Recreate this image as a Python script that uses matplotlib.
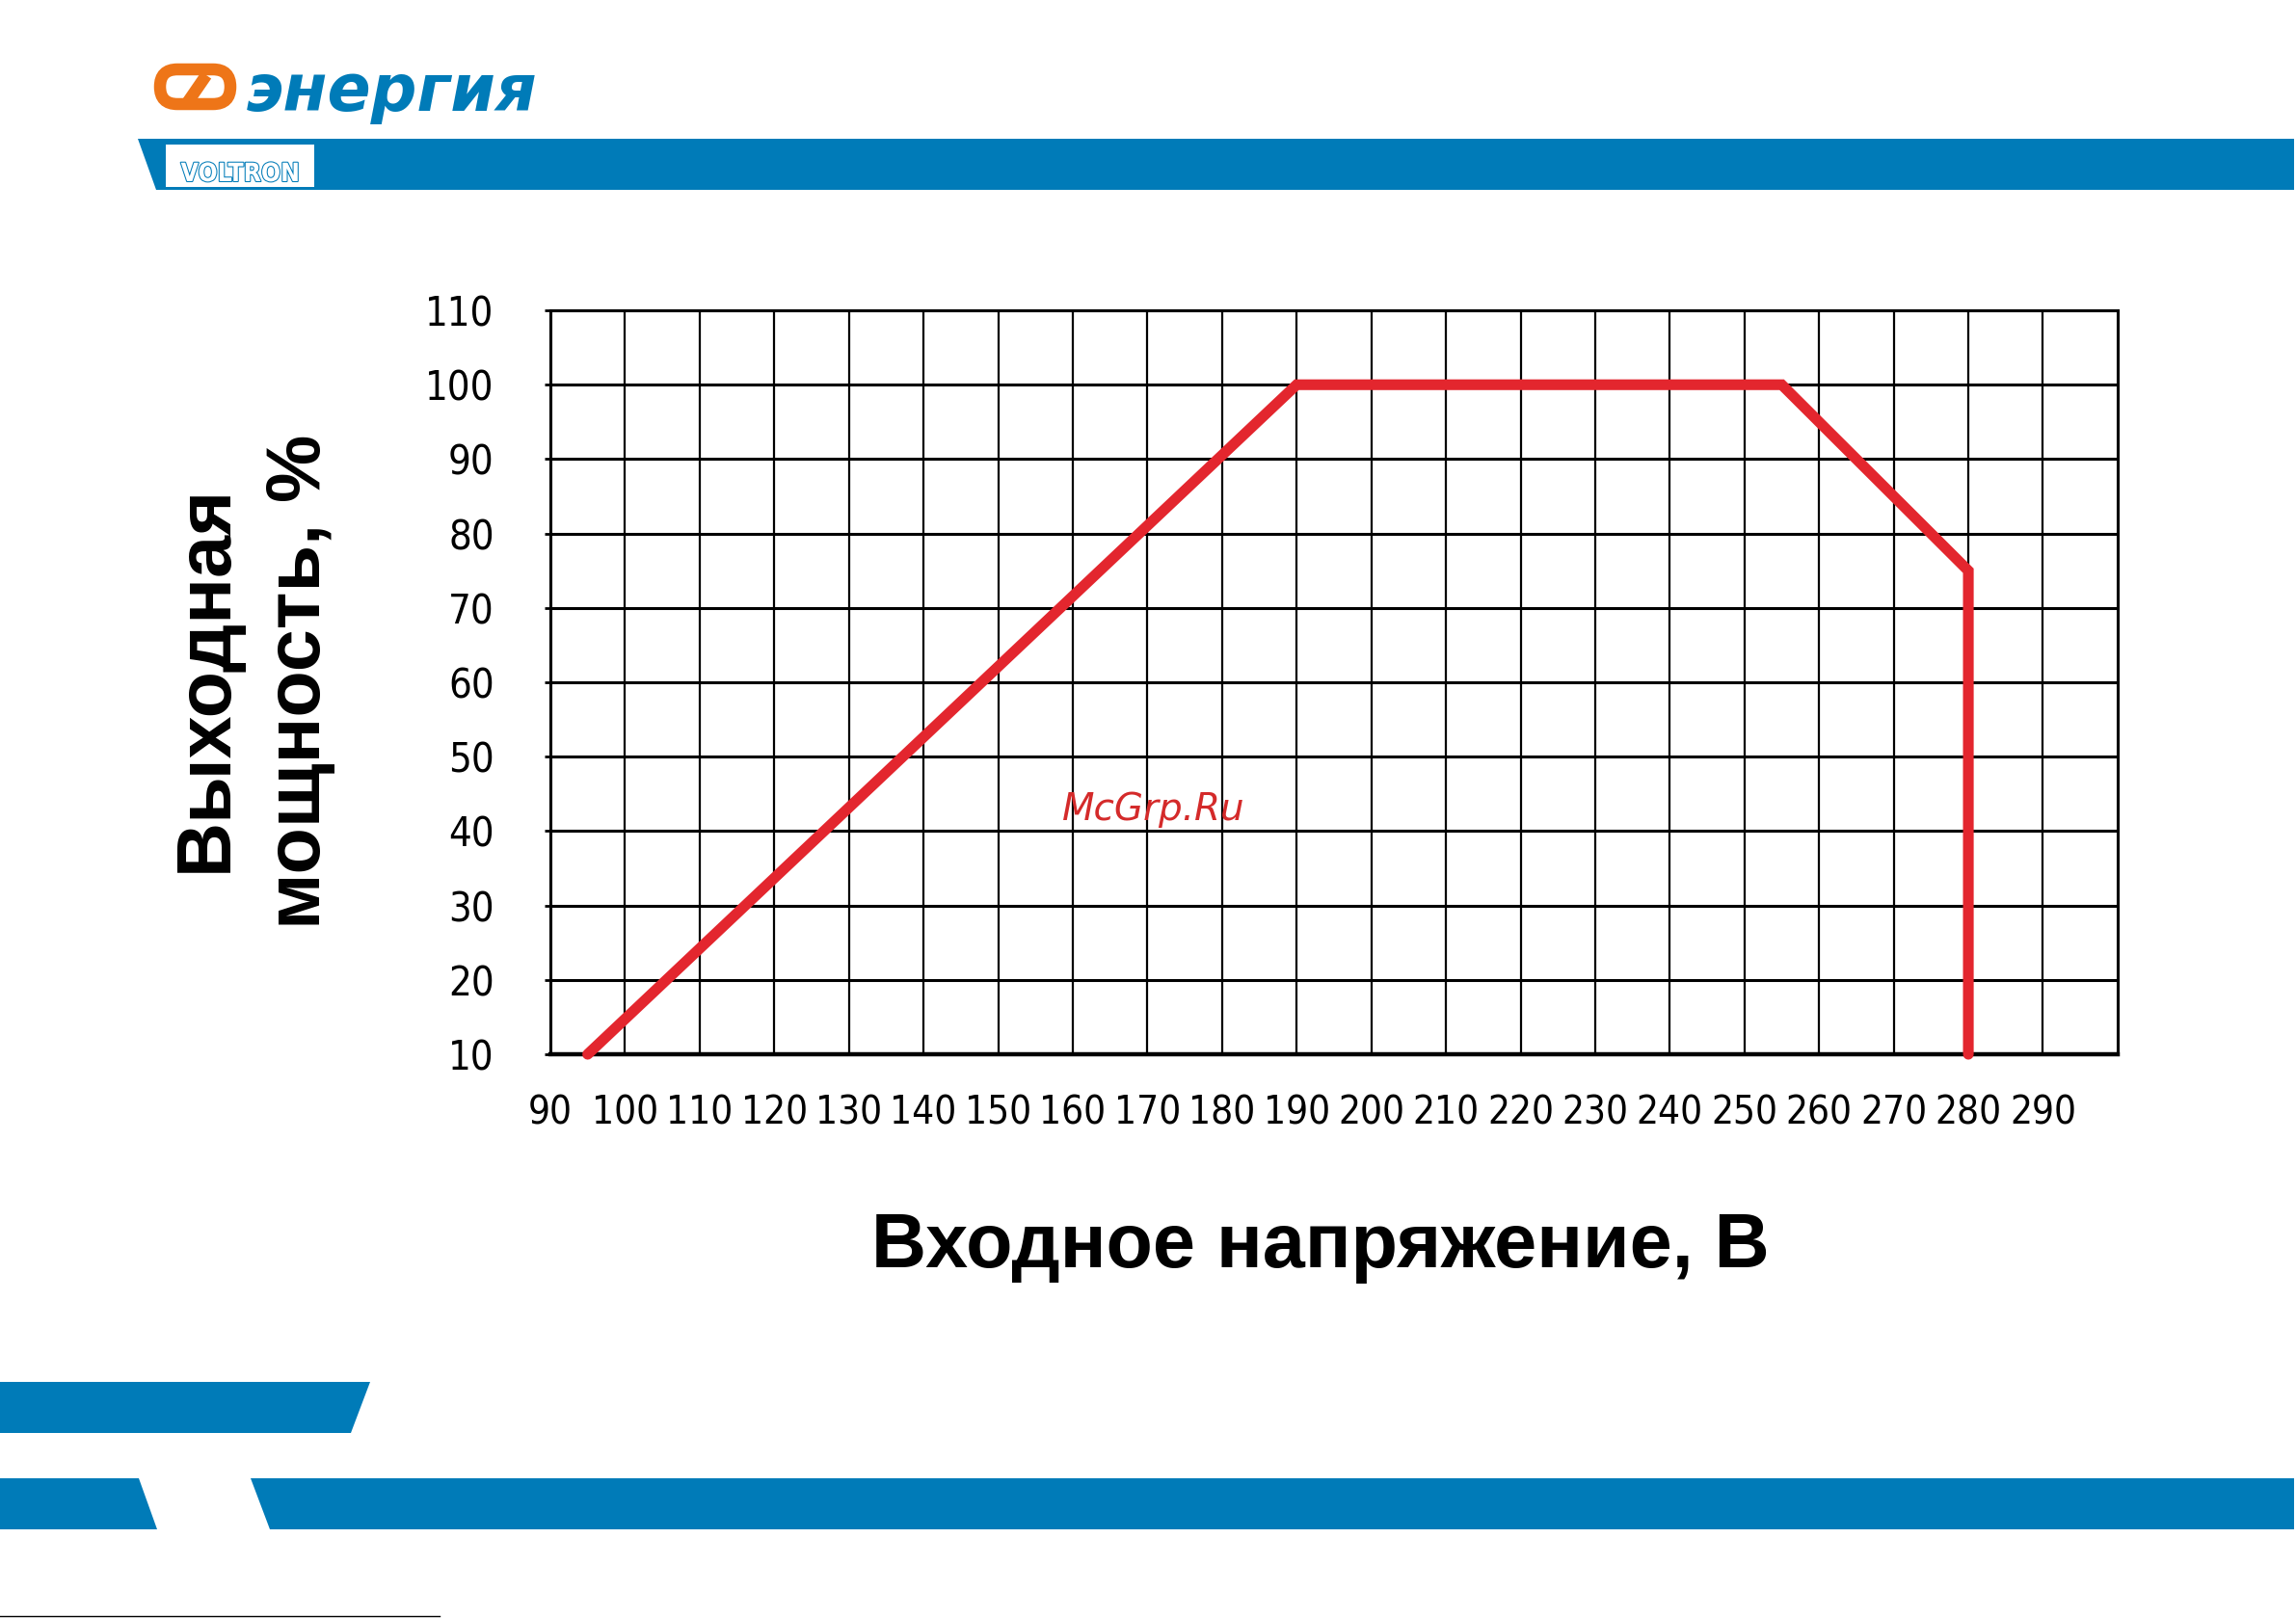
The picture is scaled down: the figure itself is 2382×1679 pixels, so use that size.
import matplotlib
matplotlib.use('Agg')
import matplotlib.pyplot as plt
from matplotlib import font_manager
from matplotlib.patches import Polygon, Rectangle, FancyBboxPatch
import matplotlib.patheffects as pe

# curve: output power vs input voltage
voltage = [95, 190, 255, 280, 280]
power = [10, 100, 100, 75, 10]

x_ticks = [90, 100, 110, 120, 130, 140, 150, 160, 170, 180, 190,
           200, 210, 220, 230, 240, 250, 260, 270, 280, 290]
y_ticks = [10, 20, 30, 40, 50, 60, 70, 80, 90, 100, 110]

x_title = 'Входное напряжение, В'
y_title = ['Выходная', 'мощность, %']

BLUE = '#007bb8'
RED = '#e3262e'
ORANGE = '#ee7518'

# look for a narrow face for the tick labels
fonts = font_manager.fontManager.ttflist
names = {f.name for f in fonts}
has_cond = any(f.name == 'DejaVu Sans' and 'Condensed' in f.fname for f in fonts)
if 'Liberation Sans Narrow' in names:
    tick_font = dict(family='Liberation Sans Narrow')
    xt_size, yt_size = 32, 30
elif has_cond:
    tick_font = dict(family='DejaVu Sans', stretch='condensed')
    xt_size, yt_size = 29, 30
else:
    tick_font = dict(family='DejaVu Sans')
    xt_size, yt_size = 26, 28

W, H = 2382, 1679
fig = plt.figure(figsize=(W / 100, H / 100), dpi=100)
fig.patch.set_facecolor('white')

# page decoration in pixel coordinates
deco = fig.add_axes([0, 0, 1, 1])
deco.set_xlim(0, W)
deco.set_ylim(H, 0)
deco.axis('off')

deco.add_patch(Polygon([(143, 144), (2380, 144), (2380, 197), (162, 197)], color=BLUE, lw=0))
deco.add_patch(Rectangle((172, 150), 154, 44, color='white', lw=0))
deco.text(249, 188, 'VOLTRON', color='white', fontsize=19, fontweight='heavy',
          ha='center', va='baseline', **tick_font,
          path_effects=[pe.withStroke(linewidth=1.5, foreground=BLUE)])

deco.add_patch(Polygon([(0, 1434), (384, 1434), (364, 1487), (0, 1487)], color=BLUE, lw=0))
deco.add_patch(Polygon([(0, 1534), (144, 1534), (163, 1587), (0, 1587)], color=BLUE, lw=0))
deco.add_patch(Polygon([(260, 1534), (2380, 1534), (2380, 1587), (280, 1587)], color=BLUE, lw=0))
deco.plot([0, 456], [1677, 1677], color='black', lw=1)

# logo
deco.add_patch(FancyBboxPatch((166, 72), 73, 36, boxstyle='round,pad=0,rounding_size=18',
                              fc='none', ec=ORANGE, lw=9))
deco.plot([192, 214], [110, 78], color=ORANGE, lw=9, solid_capstyle='butt')
deco.text(255, 115, 'энергия', color=BLUE, fontsize=48, fontweight='bold',
          style='italic', family='DejaVu Sans', ha='left', va='baseline')

# chart
ax = fig.add_axes([0.2397, 0.3484, 0.6826, 0.4598])
ax.plot(voltage, power, color=RED, lw=8, solid_capstyle='round',
        solid_joinstyle='miter', clip_on=False, zorder=5)
ax.set_xlim(90, 300)
ax.set_ylim(10, 110)
ax.set_xticks(x_ticks)
ax.set_xticklabels([str(v) for v in x_ticks], fontsize=xt_size, **tick_font)
ax.set_yticks(y_ticks)
ax.set_yticklabels([str(v) for v in y_ticks], fontsize=yt_size, **tick_font)
ax.xaxis.grid(True, color='black', lw=1.6)
ax.yaxis.grid(True, color='black', lw=2.2)
ax.tick_params(axis='x', length=0, pad=30)
ax.tick_params(axis='y', length=4, width=2, pad=38)
for s in ['left', 'top', 'right']:
    ax.spines[s].set_linewidth(2.2)
ax.spines['bottom'].set_linewidth(3.2)

fig.text(0.575, 0.2168, x_title, fontsize=57, fontweight='bold',
         family='Liberation Sans', ha='center', va='baseline')
fig.text(0.0985, 0.5805, y_title[0], fontsize=57, fontweight='bold', family='Liberation Sans',
         rotation=90, rotation_mode='anchor', ha='center', va='baseline')
fig.text(0.1395, 0.579, y_title[1], fontsize=57, fontweight='bold', family='Liberation Sans',
         rotation=90, rotation_mode='anchor', ha='center', va='baseline')

fig.text(1197 / W, 1 - 840 / H, 'McGrp.Ru', color='#d42a2a', fontsize=28,
         style='italic', family='DejaVu Sans', ha='center', va='center')

fig.savefig('out.png', dpi=100)
